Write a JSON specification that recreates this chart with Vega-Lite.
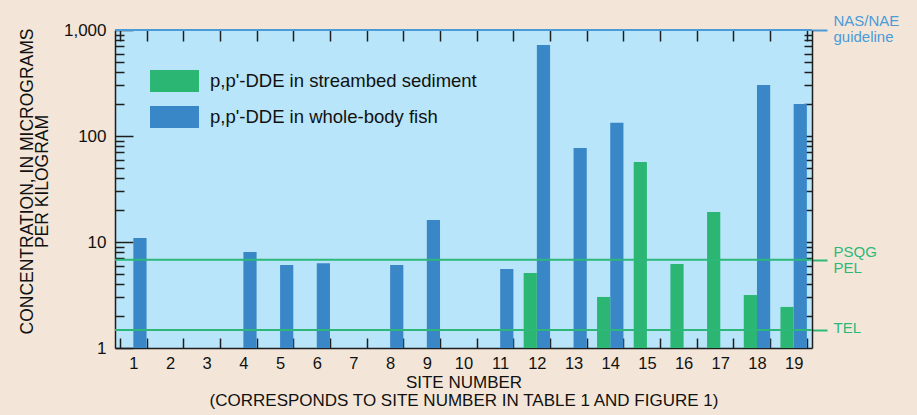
{
  "$schema": "https://vega.github.io/schema/vega-lite/v6.json",
  "width": 697,
  "height": 318,
  "autosize": {"type": "none"},
  "padding": {"left": 115, "top": 30, "right": 105, "bottom": 67},
  "background": "#f3e6d8",
  "config": {
    "font": "Liberation Sans",
    "view": {"fill": "#b8e5f9", "stroke": null},
    "axis": {"zindex": 1, "domainColor": "#1e1e1e", "domainWidth": 1.5, "tickColor": "#1e1e1e", "tickWidth": 1.5, "labelColor": "#111111", "titleColor": "#111111", "labelFont": "Liberation Sans", "titleFont": "Liberation Sans", "grid": false}
  },
  "datasets": {
    "bars": [
      {"site": 1, "medium": "p,p'-DDE in whole-body fish", "value": 10.9},
      {"site": 4, "medium": "p,p'-DDE in whole-body fish", "value": 8.05},
      {"site": 5, "medium": "p,p'-DDE in whole-body fish", "value": 6.07},
      {"site": 6, "medium": "p,p'-DDE in whole-body fish", "value": 6.3},
      {"site": 8, "medium": "p,p'-DDE in whole-body fish", "value": 6.07},
      {"site": 9, "medium": "p,p'-DDE in whole-body fish", "value": 16.1},
      {"site": 11, "medium": "p,p'-DDE in whole-body fish", "value": 5.56},
      {"site": 12, "medium": "p,p'-DDE in whole-body fish", "value": 721},
      {"site": 13, "medium": "p,p'-DDE in whole-body fish", "value": 77},
      {"site": 14, "medium": "p,p'-DDE in whole-body fish", "value": 133},
      {"site": 18, "medium": "p,p'-DDE in whole-body fish", "value": 303},
      {"site": 19, "medium": "p,p'-DDE in whole-body fish", "value": 200},
      {"site": 12, "medium": "p,p'-DDE in streambed sediment", "value": 5.1},
      {"site": 14, "medium": "p,p'-DDE in streambed sediment", "value": 3.03},
      {"site": 15, "medium": "p,p'-DDE in streambed sediment", "value": 56.9},
      {"site": 16, "medium": "p,p'-DDE in streambed sediment", "value": 6.2},
      {"site": 17, "medium": "p,p'-DDE in streambed sediment", "value": 19.2},
      {"site": 18, "medium": "p,p'-DDE in streambed sediment", "value": 3.16},
      {"site": 19, "medium": "p,p'-DDE in streambed sediment", "value": 2.44}
    ],
    "guides": [
      {"name": "NAS/NAE guideline", "value": 1000},
      {"name": "PSQG / PEL", "value": 6.8},
      {"name": "TEL", "value": 1.48}
    ]
  },
  "layer": [
    {
      "data": {"name": "bars"},
      "transform": [{"filter": "datum.medium == \"p,p'-DDE in whole-body fish\""}],
      "mark": {"type": "bar"},
      "encoding": {
        "x": {
          "field": "site", "type": "ordinal",
          "scale": {"domain": [1,2,3,4,5,6,7,8,9,10,11,12,13,14,15,16,17,18,19], "paddingInner": 0.28, "paddingOuter": 0.14},
          "axis": {
            "orient": "bottom", "labelAngle": 0, "tickBand": "extent", "tickSize": -10, "labelPadding": 17,
            "labelFontSize": 16.5, "domain": true,
            "title": ["SITE NUMBER", "(CORRESPONDS TO SITE NUMBER IN TABLE 1 AND FIGURE 1)"],
            "titleFontSize": 17, "titleFontWeight": "normal", "titleLineHeight": 18, "titlePadding": 3
          }
        },
        "xOffset": {"field": "medium", "type": "nominal", "scale": {"domain": ["p,p'-DDE in streambed sediment", "p,p'-DDE in whole-body fish"], "paddingInner": 0, "paddingOuter": 0}},
        "y": {
          "field": "value", "type": "quantitative",
          "scale": {"type": "log", "domain": [1, 1000], "nice": false},
          "axis": {
            "orient": "left",
            "values": [1,2,3,4,5,6,7,8,9,10,20,30,40,50,60,70,80,90,100,200,300,400,500,600,700,800,900,1000],
            "labelExpr": "(datum.value == 1 || datum.value == 10 || datum.value == 100 || datum.value == 1000) ? format(datum.value, ',') : ''",
            "tickSize": {"condition": {"test": "datum.value == 1 || datum.value == 10 || datum.value == 100 || datum.value == 1000", "value": -18}, "value": -9},
            "labelPadding": 27, "labelFontSize": 17, "labelFlush": false, "labelOverlap": false, "labelBound": false,
            "title": ["CONCENTRATION, IN MICROGRAMS", "PER KILOGRAM"],
            "titleFontSize": 17.5, "titleFontWeight": "normal", "titleLineHeight": 15, "titlePadding": 12, "titleY": 151
          }
        },
        "y2": {"datum": 1},
        "color": {
          "field": "medium", "type": "nominal",
          "scale": {"domain": ["p,p'-DDE in streambed sediment", "p,p'-DDE in whole-body fish"], "range": ["#2bb673", "#3a87c8"]},
          "legend": {
            "orient": "none", "legendX": 35, "legendY": 26.5, "title": null, "padding": 0,
            "symbolType": "M-1,-0.449H1V0.449H-1Z", "symbolSize": 2401, "symbolStrokeWidth": 0,
            "labelFontSize": 18.5, "labelColor": "#111111", "labelOffset": 11, "rowPadding": -15, "labelLimit": 0, "labelFont": "Liberation Sans"
          }
        }
      }
    },
    {
      "data": {"name": "bars"},
      "transform": [{"filter": "datum.medium == \"p,p'-DDE in streambed sediment\""}],
      "mark": {"type": "bar"},
      "encoding": {
        "x": {
          "field": "site", "type": "ordinal",
          "axis": {"orient": "top", "labels": false, "tickBand": "extent", "tickSize": -11, "domain": false, "title": null}
        },
        "xOffset": {"field": "medium", "type": "nominal"},
        "y": {
          "field": "value", "type": "quantitative",
          "axis": {
            "orient": "right",
            "values": [1.48, 6.8, 2,3,4,5,6,7,8,9,10,20,30,40,50,60,70,80,90,100,200,300,400,500,600,700,800,900,1000],
            "labelExpr": "datum.value == 1000 ? ['NAS/NAE', 'guideline'] : datum.value == 6.8 ? ['PSQG', 'PEL'] : datum.value == 1.48 ? 'TEL' : ''",
            "tickSize": {"condition": {"test": "datum.value == 1000 || datum.value == 6.8 || datum.value == 1.48", "value": 15}, "value": -8},
            "tickColor": {"condition": [{"test": "datum.value == 1000", "value": "#4a9bd8"}, {"test": "datum.value == 6.8 || datum.value == 1.48", "value": "#2db87a"}], "value": "#1e1e1e"},
            "tickWidth": {"condition": {"test": "datum.value == 1000 || datum.value == 6.8 || datum.value == 1.48", "value": 2}, "value": 1.5},
            "labelColor": {"condition": {"test": "datum.value == 1000", "value": "#4a9bd8"}, "value": "#2db87a"},
            "labelOffset": {"condition": [{"test": "datum.value == 1000", "value": -10}, {"test": "datum.value == 6.8", "value": -8}], "value": -2},
            "labelPadding": 6, "labelFontSize": 15, "labelLineHeight": 16, "labelFlush": false, "labelOverlap": false, "labelBound": false,
            "title": null
          }
        },
        "y2": {"datum": 1},
        "color": {"field": "medium", "type": "nominal"}
      }
    },
    {
      "data": {"name": "guides"},
      "mark": {"type": "rule", "strokeWidth": 2},
      "encoding": {
        "y": {"field": "value", "type": "quantitative", "axis": null},
        "stroke": {"condition": {"test": "datum.value == 1000", "value": "#4a9bd8"}, "value": "#2db87a"}
      }
    }
  ],
  "resolve": {"axis": {"x": "independent", "y": "independent"}}
}
